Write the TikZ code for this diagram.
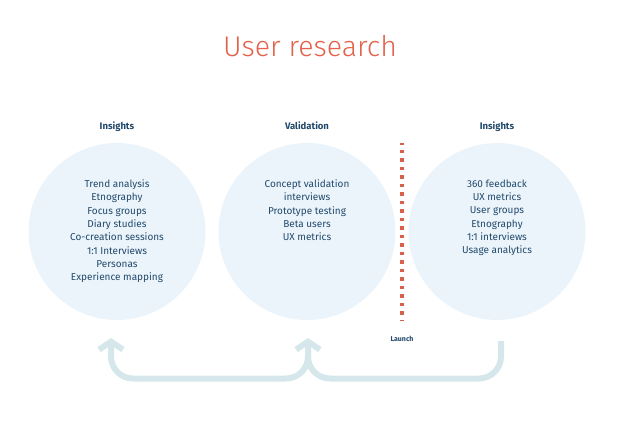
\documentclass[tikz,border=0pt]{standalone}
\usepackage{fontspec}
\setmainfont{Fira Sans}
\newfontfamily\titlefont{Fira Sans Light}
\usetikzlibrary{arrows.meta}
\definecolor{circfill}{HTML}{EBF4FB}
\definecolor{textblue}{HTML}{22496B}
\definecolor{titlered}{HTML}{E2624B}
\definecolor{arrowblue}{HTML}{D6E7EC}
\definecolor{dotred}{HTML}{D9604A}
\tikzset{
  circ/.style={circle, fill=circfill, minimum size=177pt, inner sep=0pt},
  head/.style={font=\fontsize{9.5}{11}\selectfont\bfseries, text=textblue, anchor=base, inner sep=0pt},
  body/.style={font=\fontsize{10}{13.3}\selectfont, text=textblue, align=center, anchor=north, inner sep=0pt},
  loop/.style={draw=arrowblue, line width=6pt, rounded corners=22pt, -{Straight Barb[length=8pt,width=24pt]}},
}
\begin{document}
\begin{tikzpicture}[x=1pt,y=-1pt]
\useasboundingbox (0,0) rectangle (638,424);
\node[font=\titlefont\fontsize{28.5}{32}\selectfont, text=titlered, anchor=base, inner sep=0pt] (title) at (310,56) {User research};
\node[circ] (c1) at (117,231.5) {};
\node[circ] (c2) at (307,231.5) {};
\node[circ] (c3) at (497,231.5) {};
\node[head] (h1) at (117,129) {Insights};
\node[head] (h2) at (307,129) {Validation};
\node[head] (h3) at (497,129) {Insights};
\node[body] (t1) at (117,179.5) {Trend analysis\\Etnography\\Focus groups\\Diary studies\\Co-creation sessions\\1:1 Interviews\\Personas\\Experience mapping};
\node[body] (t2) at (307,179.5) {Concept validation\\interviews\\Prototype testing\\Beta users\\UX metrics};
\node[body] (t3) at (497,179.5) {360 feedback\\UX metrics\\User groups\\Etnography\\1:1 interviews\\Usage analytics};
\coordinate (ltop) at (402,143);
\coordinate (lbot) at (402,320);
\draw[dotred, line width=3.5pt, dash pattern=on 3.5pt off 5pt, dash phase=1.75pt] (ltop) -- (lbot);
\node[font=\fontsize{7}{8}\selectfont\bfseries, text=textblue, anchor=base, inner sep=0pt] (launch) at (402,341) {Launch};
\coordinate (r0) at (501,341);
\coordinate (r1) at (501,378.5);
\coordinate (m1) at (308,378.5);
\coordinate (mtip) at (308,338);
\coordinate (l1) at (111,378.5);
\coordinate (ltip) at (111,338);
\draw[loop] (r0) -- (r1) -- (m1) -- (mtip);
\draw[loop] (308,350) -- (m1) -- (l1) -- (ltip);
\end{tikzpicture}
\end{document}
